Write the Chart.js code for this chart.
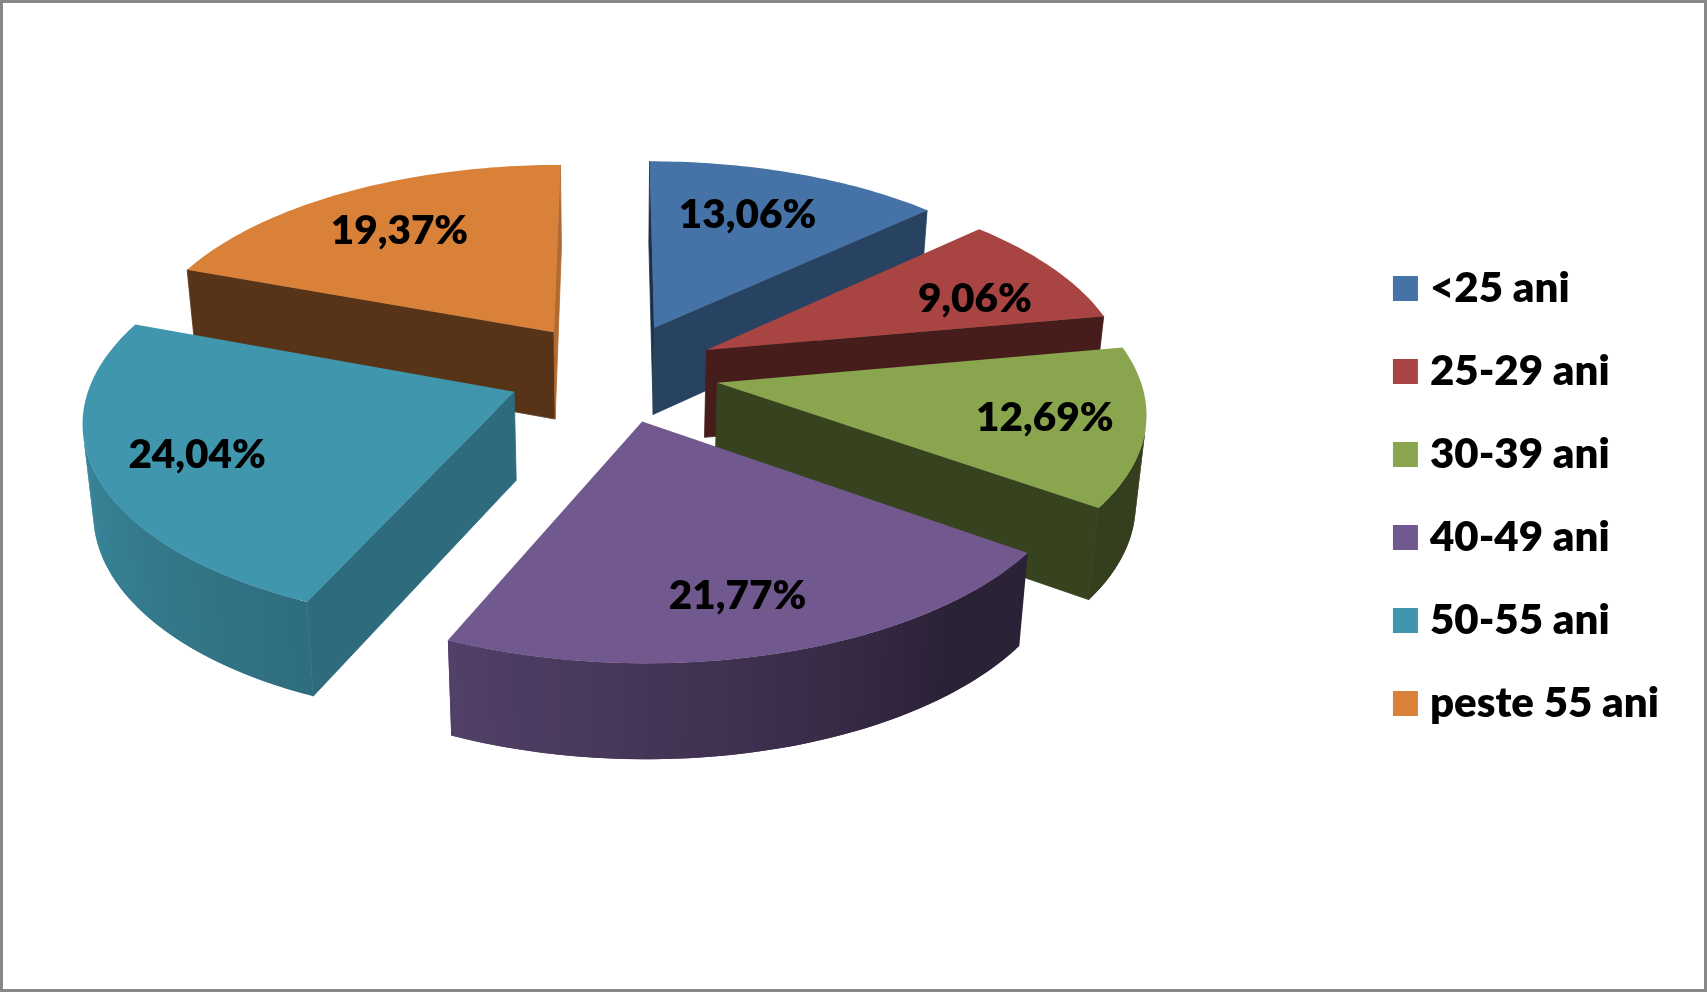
<!DOCTYPE html>
<html><head><meta charset="utf-8">
<style>
html,body{margin:0;padding:0;background:#fff;width:1707px;height:992px;overflow:hidden}
#c{position:absolute;left:0;top:0}
#frame{position:absolute;left:0;top:0;width:1707px;height:992px;box-sizing:border-box;border:3px solid #888;pointer-events:none}
</style>
<script src="https://cdn.jsdelivr.net/npm/chart.js@4"></script>
</head><body>
<canvas id="c" width="1707" height="992"></canvas>
<div id="frame"></div>
<script>
const categories = ['<25 ani','25-29 ani','30-39 ani','40-49 ani','50-55 ani','peste 55 ani'];
const shares = [13.06, 9.06, 12.69, 21.77, 24.04, 19.37];
const sliceColors = ['#4572A7','#A84543','#89A54E','#71588F','#4096AD','#D98139'];

// Style: 3D view of the pie
const FONT = 'Lato, Carlito, sans-serif';
const VIEW = {cx:613, yc:372, horizon:1568, dist:3338, depth:88, taper:0.00023};
const startWallShade = [0.42,0.42,0.42,0.42,0.72,0.40];
const endWallShade   = [0.58,0.42,0.40,0.40,0.60,0.82];
const labelReach     = [0.61,0.73,0.79,0.80,0.80,0.70];
const labelNudge     = [[3,-15],[12,9],[-9,0],[-11,-6],[14,-3],[-5,0]];
const arcShadeStops = [[0,0.4],[140,0.38],[165,0.53],[204,0.73],[270,0.93],[360,0.9]];

function rgb(hex,f){
  const n=parseInt(hex.slice(1),16);
  return 'rgb('+[(n>>16)&255,(n>>8)&255,n&255].map(c=>Math.round(c*f)).join(',')+')';
}
function project(u,v,z){
  const s=1/(1-v/VIEW.dist);
  const t=1-VIEW.taper*z;
  return [VIEW.cx+u*s*t, VIEW.yc+VIEW.horizon*(s-1)+z*Math.sqrt(s)];
}
function arcShade(a){
  let d=((a+Math.PI/2)*180/Math.PI)%360; if(d<0)d+=360;
  for(let i=1;i<arcShadeStops.length;i++){
    const p=arcShadeStops[i-1],q=arcShadeStops[i];
    if(d<=q[0]) return p[1]+(q[1]-p[1])*(d-p[0])/(q[0]-p[0]);
  }
  return 0.9;
}
function area(q){let s=0;for(let i=0;i<q.length;i++){const a=q[i],b=q[(i+1)%q.length];s+=a[0]*b[1]-b[0]*a[1];}return s;}
function fillPoly(ctx,pts,col,seal){
  ctx.beginPath();pts.forEach((p,i)=>i?ctx.lineTo(p[0],p[1]):ctx.moveTo(p[0],p[1]));ctx.closePath();
  ctx.fillStyle=col;ctx.fill();
  if(seal){ctx.strokeStyle=col;ctx.lineWidth=0.8;ctx.stroke();}
}
function wall(ctx,A,B,col,testB,seal){
  const T=testB||B;
  const t=[project(A[0],A[1],0),project(T[0],T[1],0),project(T[0],T[1],VIEW.depth),project(A[0],A[1],VIEW.depth)];
  if(area(t)>=0) return;
  fillPoly(ctx,[project(A[0],A[1],0),project(B[0],B[1],0),project(B[0],B[1],VIEW.depth),project(A[0],A[1],VIEW.depth)],col,seal);
}

const pie3d = {
  id:'pie3d',
  beforeDatasetsDraw(chart){
    const ctx=chart.ctx, meta=chart.getDatasetMeta(0);
    const slices=meta.data.map((el,i)=>{
      const p=el.getProps(['startAngle','endAngle','outerRadius']);
      const mid=(p.startAngle+p.endAngle)/2, off=el.options.offset;
      return {i,p,mid,R:p.outerRadius,ax:Math.cos(mid)*off,ay:Math.sin(mid)*off};
    }).sort((a,b)=>a.ay-b.ay);
    ctx.save();
    slices.forEach(({i,p,R,ax,ay})=>{
      const col=sliceColors[i];
      const n=Math.max(2,Math.ceil((p.endAngle-p.startAngle)*180/Math.PI));
      const rim=[];
      for(let k=0;k<=n;k++){
        const a=p.startAngle+(p.endAngle-p.startAngle)*k/n;
        rim.push({a,w:[ax+Math.cos(a)*R,ay+Math.sin(a)*R]});
      }
      const apex=[ax,ay];
      wall(ctx,apex,rim[0].w,rgb(col,startWallShade[i]),null,true);
      wall(ctx,rim[n].w,apex,rgb(col,endWallShade[i]),null,true);
      for(let k=0;k<n;k++){
        const next=rim[Math.min(n,k+2)];
        wall(ctx,rim[k].w,next.w,rgb(col,arcShade((rim[k].a+rim[k+1].a)/2)),rim[k+1].w);
      }
      const top=[project(ax,ay,0)].concat(rim.map(r=>project(r.w[0],r.w[1],0)));
      fillPoly(ctx,top,col);
    });
    ctx.font='800 40.5px '+FONT;ctx.fillStyle='#000';ctx.textAlign='center';ctx.textBaseline='middle';
    slices.forEach(({i,mid,R,ax,ay})=>{
      const r=R*labelReach[i];
      const q=project(ax+Math.cos(mid)*r,ay+Math.sin(mid)*r,0);
      ctx.fillText(shares[i].toFixed(2).replace('.',',')+'%',q[0]+labelNudge[i][0],q[1]+labelNudge[i][1]);
    });
    ctx.restore();
    return false;
  }
};

new Chart(document.getElementById('c'),{
  type:'pie',
  data:{labels:categories,datasets:[{data:shares,backgroundColor:sliceColors,borderWidth:0,offset:106,hoverOffset:0}]},
  options:{
    responsive:false,animation:false,events:[],radius:421,
    layout:{padding:{right:38}},
    plugins:{
      tooltip:{enabled:false},
      legend:{position:'right',align:'center',labels:{
        usePointStyle:true,pointStyle:'rect',boxWidth:7,boxHeight:25,padding:41,
        color:'#000',font:{family:FONT,size:42,weight:'800'}
      }}
    }
  },
  plugins:[pie3d]
});
</script>
</body></html>
